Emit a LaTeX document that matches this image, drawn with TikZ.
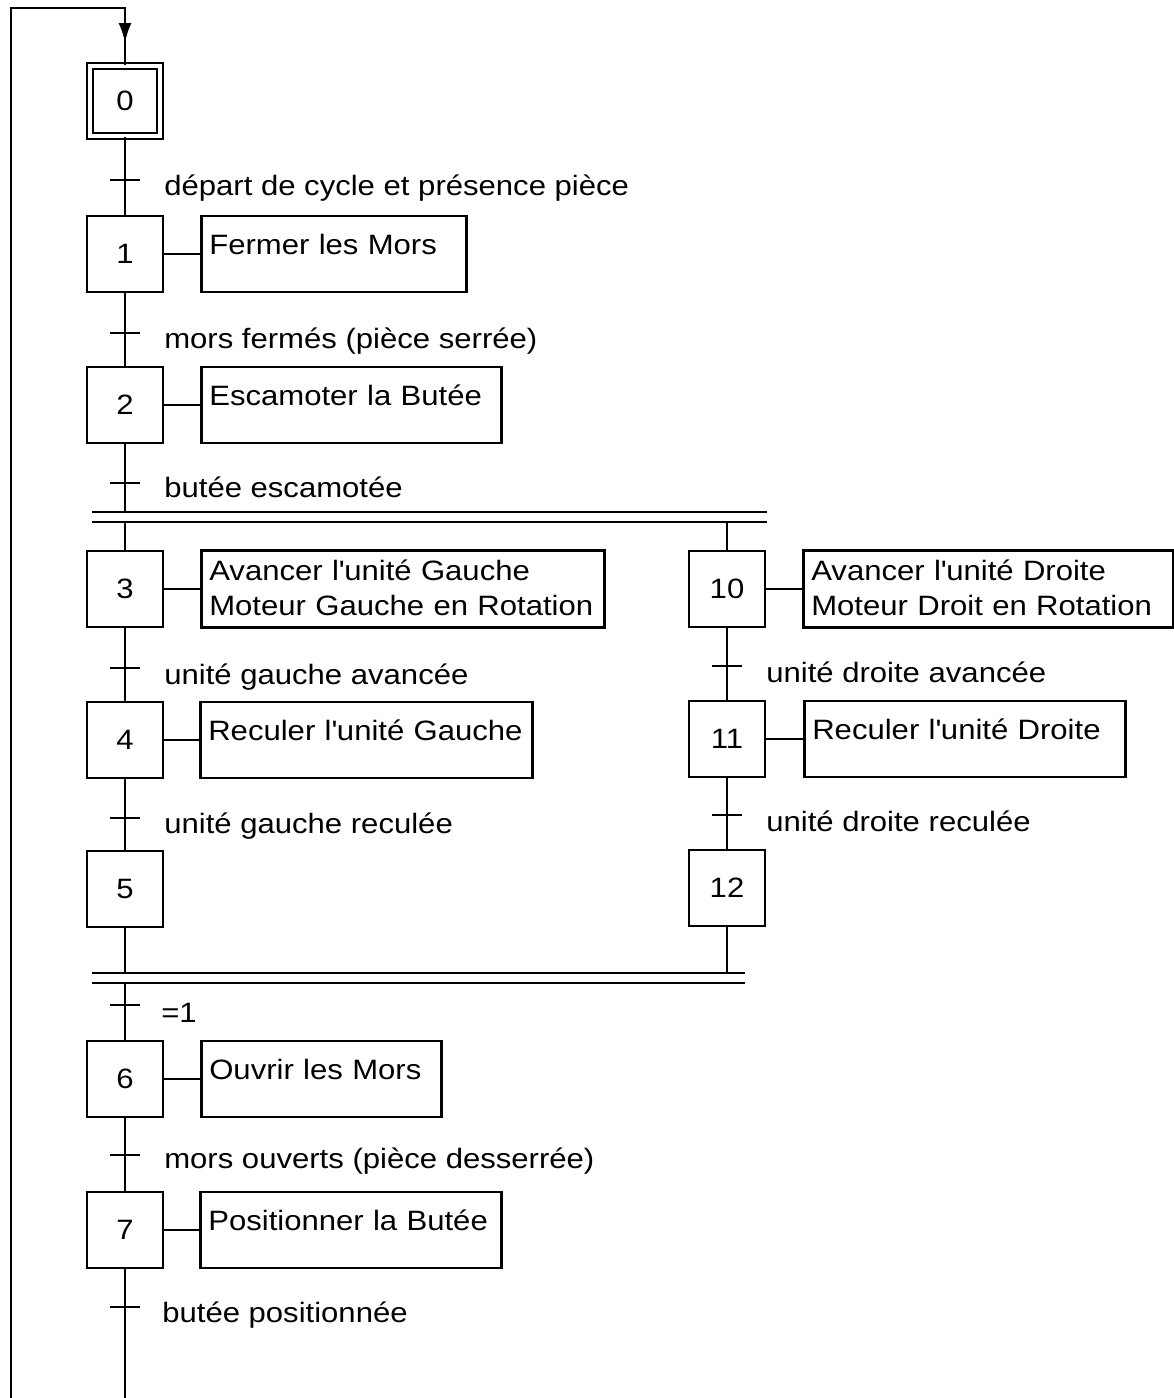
\documentclass[tikz,border=0pt]{standalone}
\usepackage{fontspec}
\setmainfont[FakeStretch=1.11]{Liberation Sans}
\usetikzlibrary{arrows.meta}
\newcommand{\apo}{\textquotesingle}
\begin{document}
\begin{tikzpicture}[x=1pt,y=-1pt, line width=2.6pt,
  every node/.style={font=\fontsize{28}{35}\selectfont},
  stepbox/.style={draw, minimum width=76pt, minimum height=76pt, inner sep=0pt},
  initstep/.style={draw, double, double distance=3.6pt, line width=2.4pt, minimum width=70pt, minimum height=70pt, inner sep=0pt},
  act/.style={draw, anchor=west, inner xsep=8pt, inner ysep=0pt, text height=38pt, text depth=38pt, align=left},
  act2/.style={act, text height=30pt, text depth=47pt},
  lab/.style={anchor=base west, inner sep=0pt},
  ticks/.style={line width=2.6pt},
]
\useasboundingbox (0,0) rectangle (1174,1398);

% steps
\node[initstep] (s0) at (125,101) {0};
\node[stepbox] (s1) at (125,254) {1};
\node[stepbox] (s2) at (125,405) {2};
\node[stepbox] (s3) at (125,589) {3};
\node[stepbox] (s4) at (125,740) {4};
\node[stepbox] (s5) at (125,889) {5};
\node[stepbox] (s10) at (727,589) {10};
\node[stepbox] (s11) at (727,739) {11};
\node[stepbox] (s12) at (727,888) {12};
\node[stepbox] (s6) at (125,1079) {6};
\node[stepbox] (s7) at (125,1230) {7};

% actions
\node[act, text width=249pt] (a1) at (200,254) {\mbox{Fermer les Mors}};
\node[act, text width=284pt] (a2) at (200,405) {\mbox{Escamoter la Butée}};
\node[act2, text width=387pt] (a3) at (200,589) {\mbox{Avancer l\apo unité Gauche}\\\mbox{Moteur Gauche en Rotation}};
\node[act2, text width=354pt] (a10) at (802,589) {\mbox{Avancer l\apo unité Droite}\\\mbox{Moteur Droit en Rotation}};
\node[act, text width=316pt] (a4) at (199,740) {\mbox{Reculer l\apo unité Gauche}};
\node[act, text width=305pt] (a11) at (803,739) {\mbox{Reculer l\apo unité Droite}};
\node[act, text width=224pt] (a6) at (200,1079) {\mbox{Ouvrir les Mors}};
\node[act, text width=285pt] (a7) at (199,1230) {\mbox{Positionner la Butée}};

\foreach \s/\a in {s1/a1,s2/a2,s3/a3,s10/a10,s4/a4,s11/a11,s6/a6,s7/a7}
  \draw (\s.east) -- (\a.west);

% coordinates for bars and loop
\coordinate (dAL) at (92,512);  \coordinate (dAR) at (767,512);
\coordinate (dBL) at (92,522);  \coordinate (dBR) at (767,522);
\coordinate (dCL) at (92,973);  \coordinate (dCR) at (745,973);
\coordinate (dDL) at (92,983);  \coordinate (dDR) at (745,983);
\coordinate (jA) at (125,512);
\coordinate (jB) at (125,522);
\coordinate (jB2) at (727,522);
\coordinate (jC) at (125,973);
\coordinate (jC2) at (727,973);
\coordinate (jD) at (125,983);
\coordinate (bot) at (125,1398);
\coordinate (loopB) at (11,1398);
\coordinate (loopT) at (11,8);
\coordinate (top) at (125,8);
\coordinate (arr) at (125,43);

% double bars
\draw (dAL) -- (dAR);
\draw (dBL) -- (dBR);
\draw (dCL) -- (dCR);
\draw (dDL) -- (dDR);

% flow lines
\draw (s0.south) -- (s1.north);
\draw (s1.south) -- (s2.north);
\draw (s2.south) -- (jA);
\draw (jB) -- (s3.north);
\draw (jB2) -- (s10.north);
\draw (s3.south) -- (s4.north);
\draw (s4.south) -- (s5.north);
\draw (s10.south) -- (s11.north);
\draw (s11.south) -- (s12.north);
\draw (s5.south) -- (jC);
\draw (s12.south) -- (jC2);
\draw (jD) -- (s6.north);
\draw (s6.south) -- (s7.north);
\draw (s7.south) -- (bot);
\draw (loopB) -- (loopT) -- (top) -- (s0.north);
\draw[-{Latex[length=20pt,width=13pt]}] (top) -- (arr);

% transitions
\foreach \n/\x/\y in {t0/125/180, t1/125/333, t2/125/483, t3/125/668, t10/727/666, t4/125/818, t11/727/815, t5/125/1005, t6/125/1155, t7/125/1307}{
  \coordinate (\n) at (\x,\y);
  \draw[ticks] ([xshift=-15pt]\n) -- ([xshift=15pt]\n);
}

% receptivities
\node[lab] (l0) at (163,195) {départ de cycle et présence pièce};
\node[lab] (l1) at (163,348) {mors fermés (pièce serrée)};
\node[lab] (l2) at (163,497) {butée escamotée};
\node[lab] (l3) at (163,684) {unité gauche avancée};
\node[lab] (l10) at (765,682) {unité droite avancée};
\node[lab] (l4) at (163,833) {unité gauche reculée};
\node[lab] (l11) at (765,831) {unité droite reculée};
\node[lab] (l5) at (160,1022) {=1};
\node[lab] (l6) at (163,1168) {mors ouverts (pièce desserrée)};
\node[lab] (l7) at (161,1322) {butée positionnée};
\end{tikzpicture}
\end{document}
